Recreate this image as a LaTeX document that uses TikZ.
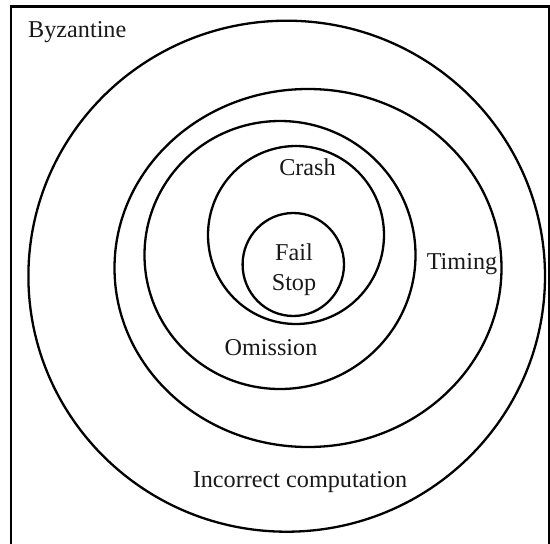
\documentclass[tikz,border=0pt]{standalone}
\usepackage{fontspec}
\setmainfont{Liberation Serif}
\usetikzlibrary{shapes.geometric}

\tikzset{
  ring/.style={draw=black, line width=2.3pt, ellipse, inner sep=0pt, outer sep=0pt},
  frame/.style={draw=black, line width=2.5pt},
  tag/.style={font=\fontsize{24.2}{29.5}\selectfont, inner sep=0pt, text=black!90},
}

\begin{document}
\begin{tikzpicture}[x=1pt, y=-1pt]
  \useasboundingbox (0,0) rectangle (550,544);
  \fill[white] (0,0) rectangle (550,544);

  % outer frame (runs past the right and bottom edges)
  \draw[frame] (11,6.5) rectangle (549.5,548);

  % nested fault classes
  \node[ring, minimum width=516.6pt, minimum height=511pt] (byz)   at (286.7,276.2) {};
  \node[ring, minimum width=387pt,   minimum height=358pt] (timing) at (308,268) {};
  \node[ring, minimum width=271pt,   minimum height=268pt] (omit)  at (280,255) {};
  \node[ring, minimum width=176pt,   minimum height=178pt] (crash) at (296,235) {};
  \node[ring, minimum width=101.4pt, minimum height=103pt] (fstop) at (293.3,264.5) {};

  % labels
  \node[tag, anchor=base west] (byz-label)    at (28,37.5)   {Byzantine};
  \node[tag, anchor=base]      (crash-label)  at (307.5,175) {Crash};
  \node[tag, align=center]     (fstop-label)  at (294,269.5) {Fail\\Stop};
  \node[tag, anchor=base]      (timing-label) at (462,269.3) {Timing};
  \node[tag, anchor=base]      (omit-label)   at (271,355)   {Omission};
  \node[tag, anchor=base]      (incorr-label) at (300,487.7) {Incorrect computation};
\end{tikzpicture}
\end{document}
